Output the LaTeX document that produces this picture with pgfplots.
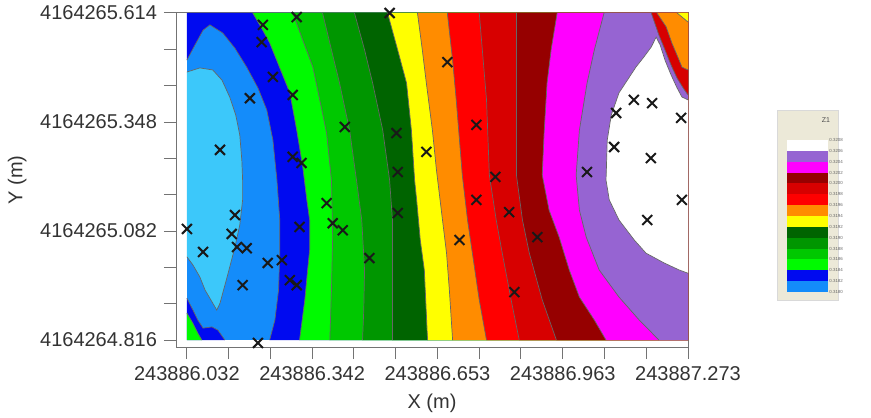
\documentclass[border=0pt]{standalone}
\usepackage{pgfplots}
\pgfplotsset{compat=1.18}
\usepackage{fontspec}
\setmainfont{Liberation Sans}
\definecolor{ccyan}{RGB}{60,200,250}
\definecolor{cdodger}{RGB}{20,140,250}
\definecolor{cblue}{RGB}{0,10,240}
\definecolor{clime}{RGB}{0,250,0}
\definecolor{cgreenA}{RGB}{0,200,0}
\definecolor{cgreenB}{RGB}{0,150,0}
\definecolor{cdkgreen}{RGB}{0,100,0}
\definecolor{cyellow}{RGB}{255,255,0}
\definecolor{corange}{RGB}{255,140,0}
\definecolor{cred}{RGB}{255,0,0}
\definecolor{cred2}{RGB}{215,0,0}
\definecolor{cdkred}{RGB}{150,0,0}
\definecolor{cmagenta}{RGB}{255,0,255}
\definecolor{cpurple}{RGB}{150,100,210}
\definecolor{legbg}{RGB}{236,233,216}
\pgfplotsset{contourline/.style={draw=black!60, line width=0.35pt}}
\newcommand{\band}[3]{%
  \addplot[fill=#1, draw=none] coordinates {#2 #3};
  \addplot[contourline] coordinates {#2};}
\begin{document}
\begin{tikzpicture}
\useasboundingbox (0,0) rectangle (435.5pt,-208.5pt);
\begin{axis}[
  at={(88pt,-173.5pt)}, anchor=south west,
  scale only axis, width=256pt, height=167pt,
  xmin=-0.027, xmax=1.241, ymin=-0.017, ymax=0.798,
  clip mode=individual,
  xtick={0,0.31025,0.6205,0.93075,1.241},
  xticklabels={\mbox{243886.032},\mbox{243886.342},\mbox{243886.653},\mbox{243886.963},\mbox{243887.273}},
  ytick={0,0.266,0.532,0.798},
  yticklabels={\mbox{4164264.816},\mbox{4164265.082},\mbox{4164265.348},\mbox{4164265.614}},
  minor x tick num=2, minor y tick num=2,
  tick align=outside, xtick pos=left, ytick pos=left,
  major tick length=6pt, minor tick length=6pt,
  axis line style={black!55, line width=0.5pt},
  every tick/.style={black!55, line width=0.5pt},
  ticklabel style={font=\fontsize{10}{12}\selectfont, text=black!80},
  label style={font=\fontsize{10}{12}\selectfont, text=black!80},
  xlabel={X (m)}, ylabel={Y (m)},
]
% base fill
\addplot[fill=cdodger, draw=none] coordinates {(0,0) (1.241,0) (1.241,0.798) (0,0.798)};
% lightest cyan lobe (left)
\band{ccyan}{(0,0.654) (0.032,0.664) (0.064,0.659) (0.087,0.634) (0.106,0.593) (0.121,0.549) (0.131,0.500) (0.136,0.439) (0.138,0.390) (0.138,0.342) (0.131,0.281) (0.119,0.227) (0.101,0.159) (0.082,0.090) (0.074,0.073) (0.064,0.090) (0.045,0.122) (0.032,0.154) (0.015,0.183) (0,0.203)}{}
% blue
\band{cblue}{(0,0.683) (0.020,0.720) (0.040,0.756) (0.057,0.769) (0.089,0.749) (0.119,0.712) (0.148,0.666) (0.176,0.615) (0.198,0.561) (0.213,0.488) (0.223,0.390) (0.230,0.293) (0.230,0.212) (0.227,0.122) (0.218,0.049) (0.205,0)}{(1.241,0) (1.241,0.798) (0,0.798)}
\band{cblue}{(0,0.102) (0.015,0.073) (0.027,0.049) (0.040,0.029) (0.062,0.032) (0.077,0.024) (0.089,0.007) (0.094,0)}{(0,0)}
\band{clime}{(0,0.066) (0.015,0.041) (0.027,0.017) (0.037,0)}{(0,0)}
% lime
\band{clime}{(0.163,0.798) (0.185,0.761) (0.205,0.725) (0.230,0.664) (0.255,0.603) (0.272,0.512) (0.287,0.422) (0.297,0.342) (0.304,0.293) (0.304,0.220) (0.299,0.171) (0.292,0.098) (0.279,0)}{(1.241,0) (1.241,0.798)}
% greens
\band{cgreenA}{(0.262,0.798) (0.287,0.732) (0.312,0.666) (0.329,0.586) (0.346,0.505) (0.358,0.390) (0.361,0.251) (0.358,0.122) (0.354,0)}{(1.241,0) (1.241,0.798)}
\band{cgreenB}{(0.336,0.798) (0.358,0.708) (0.378,0.627) (0.403,0.512) (0.420,0.390) (0.433,0.293) (0.440,0.171) (0.438,0.073) (0.435,0)}{(1.241,0) (1.241,0.798)}
\band{cdkgreen}{(0.415,0.798) (0.440,0.708) (0.460,0.627) (0.485,0.512) (0.502,0.390) (0.509,0.293) (0.509,0.146) (0.509,0)}{(1.241,0) (1.241,0.798)}
% yellow, orange, reds
\band{cyellow}{(0.497,0.798) (0.522,0.708) (0.544,0.627) (0.556,0.512) (0.564,0.390) (0.569,0.342) (0.578,0.244) (0.588,0.171) (0.596,0)}{(1.241,0) (1.241,0.798)}
\band{corange}{(0.571,0.798) (0.583,0.708) (0.593,0.627) (0.608,0.512) (0.618,0.415) (0.633,0.293) (0.643,0.212) (0.650,0.122) (0.658,0)}{(1.241,0) (1.241,0.798)}
\band{cred}{(0.645,0.798) (0.658,0.683) (0.667,0.586) (0.682,0.403) (0.695,0.293) (0.707,0.212) (0.724,0.098) (0.742,0)}{(1.241,0) (1.241,0.798)}
\band{cred2}{(0.724,0.798) (0.742,0.586) (0.749,0.403) (0.766,0.293) (0.781,0.212) (0.803,0.098) (0.823,0)}{(1.241,0) (1.241,0.798)}
\band{cdkred}{(0.816,0.798) (0.816,0.586) (0.816,0.403) (0.831,0.293) (0.848,0.212) (0.880,0.098) (0.915,0)}{(1.241,0) (1.241,0.798)}
% magenta, purple
\band{cmagenta}{(0.917,0.798) (0.902,0.708) (0.892,0.627) (0.885,0.512) (0.880,0.403) (0.897,0.317) (0.922,0.251) (0.947,0.171) (0.972,0.105) (1.009,0.049) (1.038,0)}{(1.241,0) (1.241,0.798)}
\band{cpurple}{(1.033,0.798) (1.009,0.708) (0.991,0.627) (0.972,0.512) (0.964,0.403) (0.972,0.317) (0.989,0.251) (1.021,0.171) (1.070,0.105) (1.120,0.049) (1.169,0)}{(1.241,0) (1.241,0.798)}
% white core (right)
\band{white}{(1.241,0.586) (1.226,0.593) (1.214,0.615) (1.199,0.647) (1.184,0.683) (1.172,0.720) (1.162,0.739) (1.150,0.715) (1.132,0.691) (1.112,0.666) (1.070,0.603) (1.051,0.549) (1.041,0.488) (1.038,0.390) (1.046,0.342) (1.070,0.293) (1.108,0.244) (1.137,0.212) (1.182,0.188) (1.219,0.171) (1.241,0.163)}{}
% top-right corner artefacts
\band{cred2}{(1.241,0.598) (1.229,0.615) (1.214,0.639) (1.199,0.671) (1.184,0.708) (1.169,0.744) (1.150,0.798)}{(1.241,0.798)}
\band{corange}{(1.241,0.659) (1.226,0.666) (1.219,0.683) (1.201,0.725) (1.187,0.764) (1.164,0.798)}{(1.241,0.798)}
\band{cyellow}{(1.241,0.776) (1.214,0.798)}{(1.241,0.798)}
% sample points
\addplot[only marks, mark=x, mark size=3.5pt, mark options={black!90, line width=1pt}] coordinates {
(0.188,0.769) (0.185,0.727) (0.272,0.788) (0.502,0.798) (0.213,0.642) (0.156,0.590)
(0.262,0.598) (0.391,0.520) (0.519,0.505) (0.082,0.464) (0.262,0.447) (0.284,0.432)
(0.593,0.459) (0.522,0.410) (0.645,0.678) (0.717,0.525) (0.764,0.398) (1.063,0.554)
(1.107,0.586) (1.152,0.578) (1.224,0.542) (1.058,0.471) (1.149,0.444) (0.991,0.410)
(1.226,0.342) (1.140,0.293) (0.717,0.342) (0.798,0.312) (0.675,0.244) (0.868,0.251)
(0.811,0.117) (0.000,0.271) (0.119,0.305) (0.111,0.259) (0.040,0.215) (0.124,0.227)
(0.148,0.224) (0.138,0.134) (0.200,0.188) (0.235,0.195) (0.255,0.146) (0.272,0.134)
(0.279,0.276) (0.346,0.334) (0.361,0.285) (0.386,0.268) (0.452,0.200) (0.522,0.310)
(0.176,-0.007)};
\end{axis}
% colour key
\begin{scope}[x=0.5pt,y=-0.5pt]
\fill[legbg] (777,110) rectangle (838,300);
\draw[black!15, line width=0.3pt] (777,110) rectangle (838,300);
\node[font=\fontsize{3.5}{4}\selectfont, text=black!70] at (826,120) {Z1};
\foreach \c [count=\i from 0] in {white,cpurple,cmagenta,cdkred,cred2,cred,corange,cyellow,cdkgreen,cgreenB,cgreenA,clime,cblue,cdodger}{
  \fill[\c] (787,{140+10.857*\i}) rectangle (828,{140+10.857*(\i+1)});
}
\foreach \t [count=\i from 0] in {0.3208,0.3206,0.3204,0.3202,0.3200,0.3198,0.3196,0.3194,0.3192,0.3190,0.3188,0.3186,0.3184,0.3182,0.3180}{
  \node[font=\fontsize{2.2}{2.5}\selectfont, text=black!60, anchor=west, inner sep=0pt] at (829,{140+10.857*\i}) {\t};
}
\end{scope}
\end{tikzpicture}
\end{document}
